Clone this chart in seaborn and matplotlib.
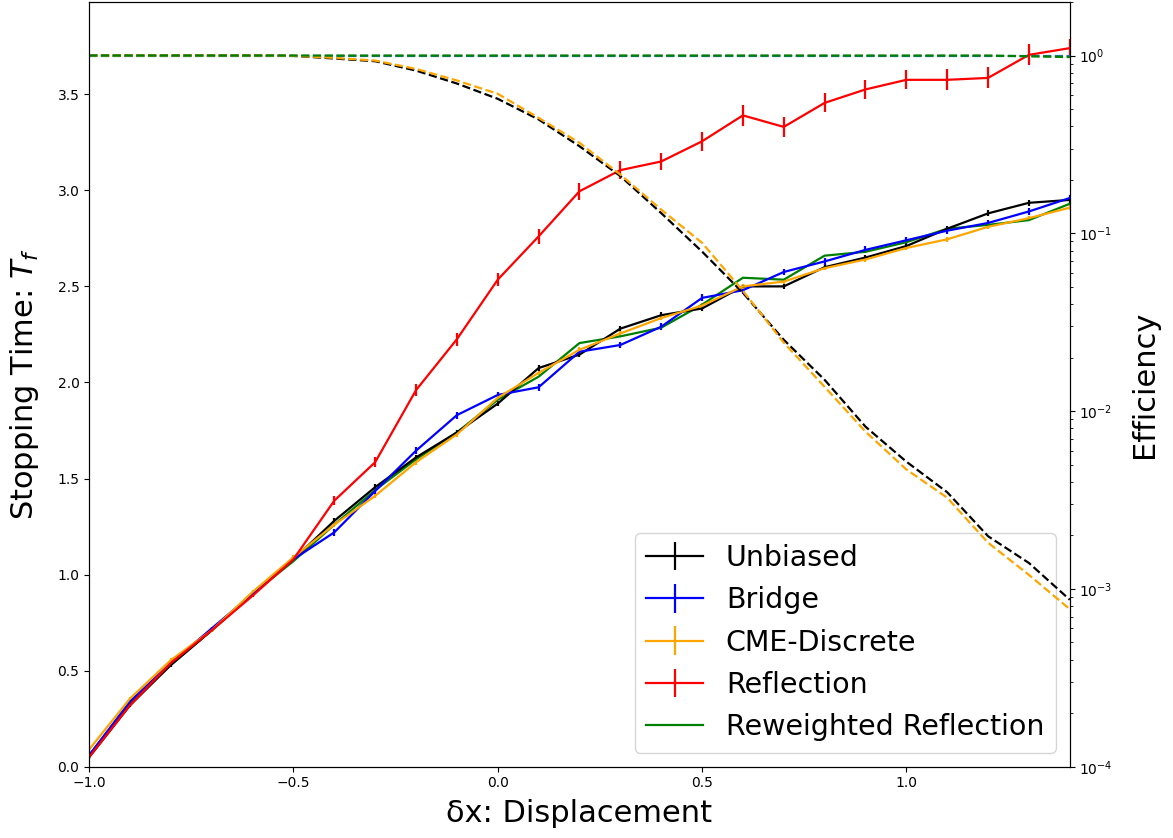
import numpy as np
import pandas as pd
import seaborn as sns
import matplotlib.pyplot as plt

# displacement grid
dx = [-1.0, -0.9, -0.8, -0.7, -0.6, -0.5, -0.4, -0.3, -0.2, -0.1, 0.0, 0.1, 0.2,
      0.3, 0.4, 0.5, 0.6, 0.7, 0.8, 0.9, 1.0, 1.1, 1.2, 1.3, 1.4]

# stopping times
t_unbiased = [0.05, 0.32, 0.53, 0.71, 0.90, 1.08, 1.28, 1.455, 1.61, 1.74, 1.89, 2.075,
              2.145, 2.28, 2.35, 2.385, 2.50, 2.50, 2.60, 2.65, 2.71, 2.80, 2.88, 2.935, 2.95]
t_bridge = [0.06, 0.34, 0.54, 0.72, 0.90, 1.08, 1.22, 1.435, 1.645, 1.83, 1.935, 1.975,
            2.16, 2.195, 2.29, 2.44, 2.48, 2.575, 2.63, 2.69, 2.74, 2.79, 2.83, 2.89, 2.96]
t_cme = [0.09, 0.355, 0.555, 0.71, 0.91, 1.09, 1.26, 1.41, 1.585, 1.73, 1.92, 2.05,
         2.17, 2.255, 2.335, 2.40, 2.50, 2.525, 2.595, 2.64, 2.70, 2.745, 2.81, 2.855, 2.91]
t_reflection = [0.05, 0.32, 0.54, 0.71, 0.89, 1.08, 1.385, 1.585, 1.96, 2.225, 2.535, 2.76,
                2.995, 3.105, 3.15, 3.255, 3.39, 3.33, 3.455, 3.525, 3.575, 3.575, 3.585, 3.705, 3.74]
t_reweighted = [0.06, 0.33, 0.53, 0.71, 0.90, 1.07, 1.26, 1.44, 1.60, 1.74, 1.91, 2.03,
                2.205, 2.24, 2.285, 2.405, 2.545, 2.535, 2.66, 2.68, 2.73, 2.80, 2.82, 2.845, 2.93]

# error bars (half widths)
e_unbiased = [0.01] * 6 + [0.015] * 19
e_bridge = [0.01] * 6 + [0.018] * 19
e_cme = [0.01] * 6 + [0.012] * 19
e_reflection = [0.005, 0.005, 0.005, 0.005, 0.005, 0.01, 0.025, 0.025, 0.03, 0.035, 0.035, 0.04,
                0.045, 0.045, 0.045, 0.05, 0.055, 0.05, 0.05, 0.05, 0.05, 0.055, 0.055, 0.055, 0.05]

# efficiencies (right axis)
eff_unbiased = [1.0, 1.0, 1.0, 1.0, 1.0, 0.995, 0.962, 0.929, 0.823, 0.696, 0.571, 0.437,
                0.309, 0.21, 0.13, 0.079, 0.0463, 0.0252, 0.0150, 0.00818, 0.0052, 0.0035,
                0.00198, 0.0014, 0.00087]
eff_bridge = [1.0] * 25
eff_cme = [1.0, 1.0, 1.0, 1.0, 1.0, 0.997, 0.97, 0.937, 0.841, 0.724, 0.609, 0.446,
           0.323, 0.214, 0.136, 0.0885, 0.0475, 0.0243, 0.0137, 0.00767, 0.0047, 0.00326,
           0.00182, 0.0012, 0.00077]
eff_reweighted = [1.0] * 23 + [0.99, 0.98]

fig, ax = plt.subplots(figsize=(11.73, 8.38), dpi=100)
fig.subplots_adjust(left=0.076, right=0.912, top=0.9976, bottom=0.085)

series = [("Unbiased", t_unbiased, e_unbiased, "black"),
          ("Bridge", t_bridge, e_bridge, "blue"),
          ("CME-Discrete", t_cme, e_cme, "orange"),
          ("Reflection", t_reflection, e_reflection, "red")]
handles = []
for label, t, e, c in series:
    h = ax.errorbar(dx, t, yerr=e, color=c, label=label, lw=1.6, elinewidth=1.6)
    handles.append(h)
sns.lineplot(x=dx, y=t_reweighted, color="green", lw=1.6, label="Reweighted Reflection", ax=ax)
handles.append(ax.get_lines()[-1])

ax.set_xlim(-1.0, 1.4)
ax.set_ylim(0, 3.98)
ax.set_xlabel("δx: Displacement", fontsize=22, labelpad=6)
ax.set_ylabel("Stopping Time: $T_f$", fontsize=22, labelpad=12)
ax.legend(handles, [h.get_label() for h in handles], loc="lower right", fontsize=20.5)

ax2 = ax.twinx()
eff = pd.DataFrame({"dx": dx, "Unbiased": eff_unbiased, "Bridge": eff_bridge,
                    "CME-Discrete": eff_cme, "Reweighted Reflection": eff_reweighted})
for col, c in [("Unbiased", "black"), ("Bridge", "tab:blue"),
               ("CME-Discrete", "orange"), ("Reweighted Reflection", "green")]:
    sns.lineplot(data=eff, x="dx", y=col, color=c, ls="--", lw=1.6, ax=ax2, legend=False)
ax2.set_yscale("log")
ax2.set_ylim(1e-4, 2)
ax2.set_ylabel("Efficiency", fontsize=22, labelpad=12)
ax.set_xlim(-1.0, 1.4)

fig.savefig("out.png", dpi=100)
